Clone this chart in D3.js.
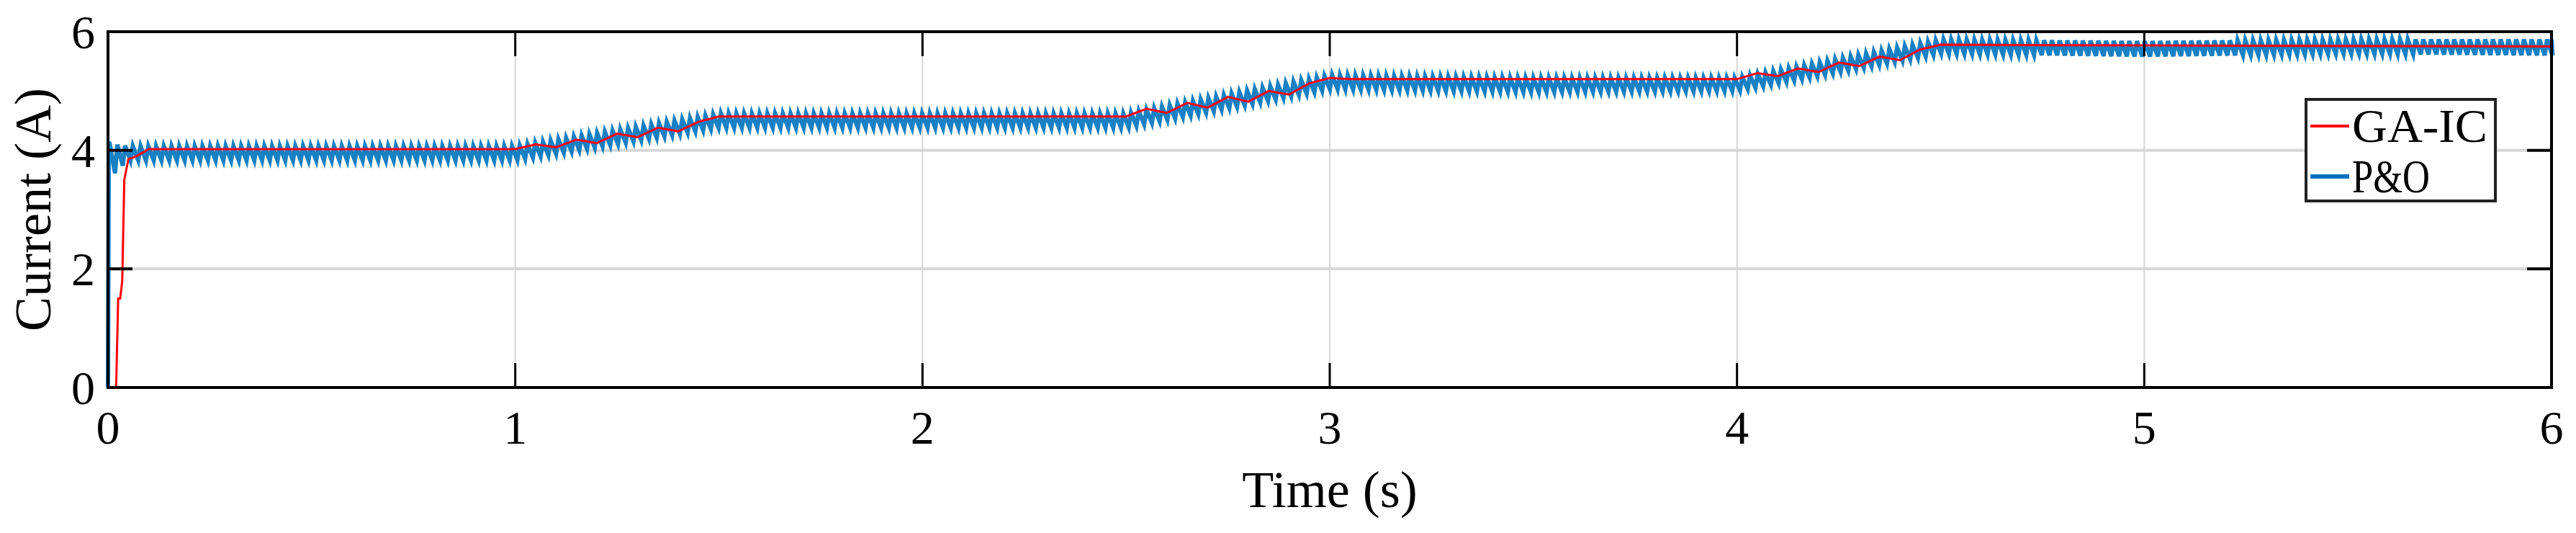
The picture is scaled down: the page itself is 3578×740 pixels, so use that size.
<!DOCTYPE html>
<html lang="en">
<head>
<meta charset="UTF-8">
<title>Current</title>
<style>body{margin:0;background:#fff}</style>
</head>
<body>
<script src="https://d3js.org/d3.v7.min.js"></script>
<script>
// tick labels
var xTicks = [0, 1, 2, 3, 4, 5, 6];
var yTicks = [0, 2, 4, 6];
var seriesNames = ["GA-IC", "P&O"];

// GA-IC trace [time, current]
var gaT = [0, 0.02, 0.025, 0.03, 0.035, 0.04, 0.05, 0.07, 0.1, 1.0, 1.05, 1.1, 1.15, 1.2, 1.25, 1.3, 1.35, 1.4, 1.45, 1.5,
           2.5, 2.55, 2.6, 2.65, 2.7, 2.75, 2.8, 2.85, 2.9, 2.95, 3.0, 3.05,
           4.0, 4.05, 4.1, 4.15, 4.2, 4.25, 4.3, 4.35, 4.4, 4.45, 4.5, 6.0];
var gaI = [0, 0, 1.5, 1.5, 1.8, 3.5, 3.85, 3.9, 4.02, 4.02, 4.1, 4.05, 4.18, 4.12, 4.28, 4.22, 4.38, 4.32, 4.48, 4.57,
           4.57, 4.7, 4.63, 4.8, 4.72, 4.9, 4.82, 5.0, 4.94, 5.13, 5.22, 5.2,
           5.2, 5.3, 5.25, 5.38, 5.32, 5.48, 5.42, 5.58, 5.52, 5.7, 5.78, 5.75];

// P&O oscillation envelope
var poT  = [0, 0.05, 1.0, 1.5, 2.5, 3.0, 3.5, 4.0, 4.5, 5.0, 5.5, 6.0];
var poHi = [4.12, 4.07, 4.07, 4.62, 4.62, 5.27, 5.22, 5.22, 5.87, 5.84, 5.87, 5.87];
var poLo = [3.5, 3.83, 3.83, 4.38, 4.38, 5.03, 4.98, 5.0, 5.63, 5.58, 5.63, 5.6];
var poPeriod = 0.019;

var W = 3578, H = 740;
var m = {left: 150, right: 34, top: 44, bottom: 202};

var svg = d3.select("body").append("svg")
    .attr("width", W).attr("height", H);

var x = d3.scaleLinear().domain([0, 6]).range([m.left, W - m.right]);
var y = d3.scaleLinear().domain([0, 6]).range([H - m.bottom, m.top]);

// grid
svg.append("g").selectAll("line").data(xTicks.slice(1, -1)).join("line")
    .attr("x1", d => x(d)).attr("x2", d => x(d))
    .attr("y1", y(0)).attr("y2", y(6))
    .attr("stroke", "#d6d6d6").attr("stroke-width", 2);
svg.append("g").selectAll("line").data(yTicks.slice(1, -1)).join("line")
    .attr("x1", x(0)).attr("x2", x(6))
    .attr("y1", d => y(d)).attr("y2", d => y(d))
    .attr("stroke", "#d6d6d6").attr("stroke-width", 4);

var line = d3.line().x(d => x(d[0])).y(d => y(d[1]));

// P&O sawtooth between the envelopes
var hiAt = d3.scaleLinear().domain(poT).range(poHi);
var loAt = d3.scaleLinear().domain(poT).range(poLo);
var po = [[0, 0], [0.002, poHi[0]]];
for (var t = 0.004; t < 6; t += poPeriod) {
    po.push([t, hiAt(t)]);
    po.push([t + poPeriod * 0.7, loAt(t + poPeriod * 0.7)]);
}
po.push([6, hiAt(6)]);

svg.append("path").datum(po)
    .attr("d", line).attr("fill", "none")
    .attr("stroke", "#0072BD").attr("stroke-width", 6).attr("opacity", 0.9);

svg.append("path").datum(d3.zip(gaT, gaI))
    .attr("d", line).attr("fill", "none")
    .attr("stroke", "#ff0000").attr("stroke-width", 3);

// axes box and ticks
var font = "'Liberation Serif', 'Times New Roman', serif";
svg.append("rect")
    .attr("x", x(0)).attr("y", y(6))
    .attr("width", x(6) - x(0)).attr("height", y(0) - y(6))
    .attr("fill", "none").attr("stroke", "#000").attr("stroke-width", 4);

var tl = 34;
xTicks.forEach(function (d) {
    svg.append("line").attr("x1", x(d)).attr("x2", x(d)).attr("y1", y(0)).attr("y2", y(0) - tl)
        .attr("stroke", "#000").attr("stroke-width", 3);
    svg.append("line").attr("x1", x(d)).attr("x2", x(d)).attr("y1", y(6)).attr("y2", y(6) + tl)
        .attr("stroke", "#000").attr("stroke-width", 3);
    svg.append("text").attr("x", x(d)).attr("y", y(0) + 78)
        .attr("text-anchor", "middle").attr("font-family", font).attr("font-size", 66)
        .text(d);
});
yTicks.forEach(function (d) {
    svg.append("line").attr("x1", x(0)).attr("x2", x(0) + tl).attr("y1", y(d)).attr("y2", y(d))
        .attr("stroke", "#000").attr("stroke-width", 4);
    svg.append("line").attr("x1", x(6)).attr("x2", x(6) - tl).attr("y1", y(d)).attr("y2", y(d))
        .attr("stroke", "#000").attr("stroke-width", 4);
    svg.append("text").attr("x", x(0) - 18).attr("y", y(d) + 23)
        .attr("text-anchor", "end").attr("font-family", font).attr("font-size", 66)
        .text(d);
});

svg.append("text").attr("x", (x(0) + x(6)) / 2).attr("y", H - 36)
    .attr("text-anchor", "middle").attr("font-family", font).attr("font-size", 72)
    .text("Time (s)");
svg.append("text")
    .attr("transform", "translate(70," + ((y(0) + y(6)) / 2) + ") rotate(-90)")
    .attr("text-anchor", "middle").attr("font-family", font).attr("font-size", 72)
    .text("Current (A)");

// legend
var lg = svg.append("g").attr("transform", "translate(3203,138)");
lg.append("rect").attr("width", 263).attr("height", 141)
    .attr("fill", "#fff").attr("stroke", "#222").attr("stroke-width", 4);
var colors = ["#ff0000", "#0072BD"];
seriesNames.forEach(function (s, i) {
    var yy = 37 + i * 70;
    lg.append("line").attr("x1", 6).attr("x2", 60).attr("y1", yy).attr("y2", yy)
        .attr("stroke", colors[i]).attr("stroke-width", i ? 6 : 4);
    lg.append("text").attr("x", 64).attr("y", yy + 22)
        .attr("font-family", font).attr("font-size", 66)
        .attr("textLength", i ? 108 : 188).attr("lengthAdjust", "spacingAndGlyphs")
        .text(s);
});
</script>
</body>
</html>
